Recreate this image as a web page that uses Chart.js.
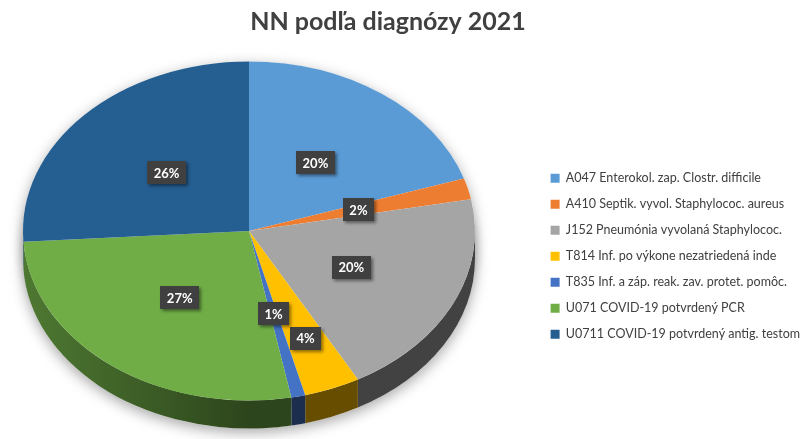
<!DOCTYPE html>
<html>
<head>
<meta charset="utf-8">
<script src="https://cdn.jsdelivr.net/npm/chart.js@4"></script>
<style>
  body { margin: 0; background: #fff; }
  #wrap { width: 802px; height: 439px; position: relative; }
</style>
</head>
<body>
<div id="wrap"><canvas id="pieChart"></canvas></div>
<script>
// dáta grafu
const categories = [
    'A047 Enterokol. zap. Clostr. difficile',
    'A410 Septik. vyvol. Staphylococ. aureus',
    'J152 Pneumónia vyvolaná Staphylococ.',
    'T814 Inf. po výkone nezatriedená inde',
    'T835 Inf. a záp. reak. zav. protet. pomôc.',
    'U071 COVID-19 potvrdený PCR',
    'U0711 COVID-19 potvrdený antig. testom'
];
const values = [20, 2, 20, 4, 1, 27, 26];
const colors = ['#5B9BD5', '#ED7D31', '#A5A5A5', '#FFC000', '#4472C4', '#70AD47', '#255E91'];

function shade(hex, f) {
    const n = parseInt(hex.slice(1), 16);
    const r = Math.round(((n >> 16) & 255) * f);
    const g = Math.round(((n >> 8) & 255) * f);
    const b = Math.round((n & 255) * f);
    return 'rgb(' + r + ',' + g + ',' + b + ')';
}

// 3D vzhľad: bok koláča + stlačenie do elipsy + popisky
const pie3d = {
    id: 'pie3d',
    beforeDatasetsDraw(chart, args, opts) {
        const ctx = chart.ctx;
        const arcs = chart.getDatasetMeta(0).data;
        const cx = arcs[0].x, cy = arcs[0].y, R = arcs[0].outerRadius;
        const Tx = opts.centerX, Ty = opts.centerY, sy = opts.tilt, depth = opts.depth;

        ctx.save();
        // tieň
        ctx.save();
        ctx.shadowColor = 'rgba(0,0,0,0.35)';
        ctx.shadowBlur = 14;
        ctx.shadowOffsetY = 4;
        ctx.fillStyle = '#fff';
        ctx.beginPath();
        ctx.ellipse(Tx, Ty + depth, R, R * sy, 0, 0, Math.PI * 2);
        ctx.fill();
        ctx.beginPath();
        ctx.ellipse(Tx, Ty, R, R * sy, 0, 0, Math.PI * 2);
        ctx.fill();
        ctx.restore();

        // bočné steny (len predná polovica)
        arcs.forEach((arc, i) => {
            const a = Math.max(arc.startAngle, 0);
            const b = Math.min(arc.endAngle, Math.PI);
            if (a >= b) return;
            const grad = ctx.createLinearGradient(Tx - R, 0, Tx, 0);
            grad.addColorStop(0, shade(colors[i], 0.7));
            grad.addColorStop(1, shade(colors[i], 0.4));
            ctx.fillStyle = grad;
            ctx.beginPath();
            ctx.ellipse(Tx, Ty, R, R * sy, 0, a, b);
            ctx.ellipse(Tx, Ty + depth, R, R * sy, 0, b, a, true);
            ctx.closePath();
            ctx.fill();
        });

        // horná plocha – stlačená do elipsy
        ctx.translate(Tx, Ty);
        ctx.scale(1, sy);
        ctx.translate(-cx, -cy);
    },
    afterDatasetsDraw(chart, args, opts) {
        const ctx = chart.ctx;
        ctx.restore();
        const arcs = chart.getDatasetMeta(0).data;
        const total = values.reduce((s, v) => s + v, 0);
        const Tx = opts.centerX, Ty = opts.centerY, sy = opts.tilt;
        ctx.save();
        ctx.font = 'bold 13px Lato';
        ctx.textAlign = 'center';
        ctx.textBaseline = 'middle';
        arcs.forEach((arc, i) => {
            const mid = (arc.startAngle + arc.endAngle) / 2;
            const f = opts.labelRadius[i];
            const px = Tx + arc.outerRadius * f * Math.cos(mid);
            const py = Ty + arc.outerRadius * sy * f * Math.sin(mid);
            const txt = Math.round(values[i] / total * 100) + '%';
            const w = ctx.measureText(txt).width + 13;
            const h = 23;
            ctx.save();
            ctx.shadowColor = 'rgba(0,0,0,0.45)';
            ctx.shadowBlur = 3;
            ctx.shadowOffsetX = 2;
            ctx.shadowOffsetY = 2;
            ctx.fillStyle = '#404040';
            ctx.fillRect(Math.round(px - w / 2), Math.round(py - h / 2), Math.round(w), h);
            ctx.restore();
            ctx.fillStyle = '#fff';
            ctx.fillText(txt, px, py + 1);
        });
        ctx.restore();
    }
};

const ctx = document.getElementById('pieChart').getContext('2d');
const myPieChart = new Chart(ctx, {
    type: 'pie',
    data: {
        labels: categories,
        datasets: [{
            data: values,
            backgroundColor: colors,
            borderWidth: 0,
            clip: false
        }]
    },
    options: {
        responsive: true,
        maintainAspectRatio: false,
        animation: false,
        events: [],
        radius: 226,
        layout: { padding: { left: -34, right: -8, bottom: 85 } },
        plugins: {
            title: {
                display: true,
                text: 'NN podľa diagnózy 2021',
                color: '#404040',
                font: { family: 'Lato', size: 25, weight: 'bold' },
                padding: { top: 7, bottom: 10 }
            },
            legend: {
                position: 'right',
                align: 'end',
                labels: {
                    color: '#404040',
                    font: { family: 'Lato', size: 12.5 },
                    boxWidth: 9,
                    boxHeight: 9,
                    padding: 13.5
                }
            },
            tooltip: { enabled: false },
            pie3d: {
                centerX: 249,
                centerY: 231,
                tilt: 0.75,
                depth: 28,
                labelRadius: [0.5, 0.5, 0.5, 0.68, 0.5, 0.5, 0.5]
            }
        }
    },
    plugins: [pie3d]
});
</script>
</body>
</html>
